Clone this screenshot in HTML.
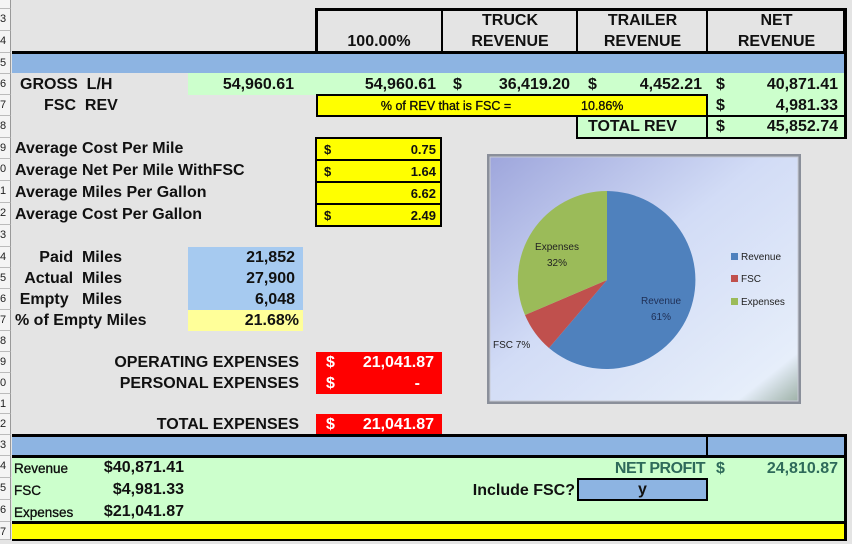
<!DOCTYPE html>
<html><head><meta charset="utf-8"><style>
*{margin:0;padding:0;box-sizing:border-box}
body{width:852px;height:544px;background:#e4e4e4;position:relative;overflow:hidden;font-family:"Liberation Sans",Arial,sans-serif;font-weight:bold;color:#111}
.a{position:absolute}
.t{position:absolute;white-space:nowrap;font-size:16px;line-height:21px}
.r{text-align:right}
.c{text-align:center}
.rh{position:absolute;left:0;width:11px;background:#f4f4f4;border-bottom:1px solid #bbb;border-right:1px solid #999;font-size:11px;font-weight:normal;color:#222;overflow:hidden;line-height:20px;direction:rtl;text-align:left;padding-left:0}
</style></head><body>
<div class="rh" style="top:0;height:9px"></div>
<div class="rh" style="top:9px;height:22px">3</div>
<div class="rh" style="top:31px;height:22px">4</div>
<div class="rh" style="top:53px;height:21px">5</div>
<div class="rh" style="top:74px;height:21px">6</div>
<div class="rh" style="top:95px;height:21px">7</div>
<div class="rh" style="top:116px;height:22px">8</div>
<div class="rh" style="top:138px;height:21px">9</div>
<div class="rh" style="top:159px;height:22px">0</div>
<div class="rh" style="top:181px;height:22px">1</div>
<div class="rh" style="top:203px;height:22px">2</div>
<div class="rh" style="top:225px;height:22px">3</div>
<div class="rh" style="top:247px;height:21px">4</div>
<div class="rh" style="top:268px;height:21px">5</div>
<div class="rh" style="top:289px;height:21px">6</div>
<div class="rh" style="top:310px;height:21px">7</div>
<div class="rh" style="top:331px;height:21px">8</div>
<div class="rh" style="top:352px;height:21px">9</div>
<div class="rh" style="top:373px;height:21px">0</div>
<div class="rh" style="top:394px;height:20px">1</div>
<div class="rh" style="top:414px;height:21px">2</div>
<div class="rh" style="top:435px;height:21px">3</div>
<div class="rh" style="top:456px;height:22px">4</div>
<div class="rh" style="top:478px;height:22px">5</div>
<div class="rh" style="top:500px;height:22px">6</div>
<div class="rh" style="top:522px;height:18px">7</div>

<div class="a" style="left:315px;top:8px;width:531px;height:46px;border:3px solid #000;border-bottom:none"></div>
<div class="a" style="left:441px;top:8px;width:2px;height:46px;background:#000"></div>
<div class="a" style="left:576px;top:8px;width:2px;height:46px;background:#000"></div>
<div class="a" style="left:706px;top:8px;width:2px;height:46px;background:#000"></div>
<div class="a" style="left:12px;top:51px;width:834px;height:3px;background:#000"></div>
<div class="t c" style="left:316px;top:31px;width:126px">100.00%</div>
<div class="t c" style="left:443px;top:10px;width:134px">TRUCK<br>REVENUE</div>
<div class="t c" style="left:578px;top:10px;width:129px">TRAILER<br>REVENUE</div>
<div class="t c" style="left:708px;top:10px;width:137px">NET<br>REVENUE</div>
<div class="a" style="left:12px;top:54px;width:834px;height:19px;background:#8db4e2"></div>
<div class="a" style="left:188px;top:73px;width:658px;height:22px;background:#ccffcc"></div>
<div class="a" style="left:708px;top:95px;width:138px;height:44px;background:#ccffcc"></div>
<div class="a" style="left:577px;top:116px;width:131px;height:23px;background:#ccffcc"></div>
<div class="t" style="left:20px;top:74px">GROSS&nbsp; L/H</div>
<div class="t r" style="left:188px;top:74px;width:106px">54,960.61</div>
<div class="t r" style="left:316px;top:74px;width:120px">54,960.61</div>
<div class="t" style="left:453px;top:74px">$</div>
<div class="t r" style="left:460px;top:74px;width:110px">36,419.20</div>
<div class="t" style="left:588px;top:74px">$</div>
<div class="t r" style="left:600px;top:74px;width:102px">4,452.21</div>
<div class="t" style="left:716px;top:74px">$</div>
<div class="t r" style="left:730px;top:74px;width:108px">40,871.41</div>
<div class="t" style="left:44px;top:95px">FSC&nbsp; REV</div>
<div class="a" style="left:316px;top:94px;width:392px;height:23px;background:#ffff00;border:2px solid #000;border-right:none"></div>
<div class="a" style="left:706px;top:94px;width:2px;height:45px;background:#000"></div>
<div class="t c" style="left:316px;top:96px;width:260px;font-size:12.5px;font-weight:normal;-webkit-text-stroke:.3px #000">% of REV that is FSC =</div>
<div class="t" style="left:581px;top:96px;font-size:12.5px;font-weight:normal;-webkit-text-stroke:.3px #000">10.86%</div>
<div class="t" style="left:716px;top:95px">$</div>
<div class="t r" style="left:730px;top:95px;width:108px">4,981.33</div>
<div class="a" style="left:576px;top:115px;width:270px;height:24px;border:2px solid #000;border-top:none"></div>
<div class="a" style="left:706px;top:115px;width:140px;height:2px;background:#000"></div>
<div class="a" style="left:844px;top:8px;width:3px;height:131px;background:#000"></div>
<div class="t" style="left:588px;top:116px">TOTAL REV</div>
<div class="t" style="left:716px;top:116px">$</div>
<div class="t r" style="left:730px;top:116px;width:108px">45,852.74</div>
<div class="t" style="left:15px;top:138px">Average Cost Per Mile</div>
<div class="t" style="left:15px;top:160px">Average Net Per Mile WithFSC</div>
<div class="t" style="left:15px;top:182px">Average Miles Per Gallon</div>
<div class="t" style="left:15px;top:204px">Average Cost Per Gallon</div>
<div class="a" style="left:315px;top:137px;width:127px;height:90px;background:#ffff00;border:2px solid #000"></div>
<div class="a" style="left:315px;top:159px;width:127px;height:2px;background:#000"></div>
<div class="a" style="left:315px;top:181px;width:127px;height:2px;background:#000"></div>
<div class="a" style="left:315px;top:203px;width:127px;height:2px;background:#000"></div>
<div class="t" style="left:324px;top:139px;font-size:13px">$</div>
<div class="t r" style="left:330px;top:139px;width:106px;font-size:13px">0.75</div>
<div class="t" style="left:324px;top:161px;font-size:13px">$</div>
<div class="t r" style="left:330px;top:161px;width:106px;font-size:13px">1.64</div>
<div class="t r" style="left:330px;top:183px;width:106px;font-size:13px">6.62</div>
<div class="t" style="left:324px;top:205px;font-size:13px">$</div>
<div class="t r" style="left:330px;top:205px;width:106px;font-size:13px">2.49</div>
<div class="a" style="left:188px;top:247px;width:115px;height:63px;background:#a6caf0"></div>
<div class="a" style="left:188px;top:310px;width:115px;height:21px;background:#ffff99"></div>
<div class="t r" style="left:15px;top:247px;width:107px">Paid&nbsp; Miles</div>
<div class="t r" style="left:15px;top:268px;width:107px">Actual&nbsp; Miles</div>
<div class="t r" style="left:15px;top:289px;width:107px">Empty&nbsp;&nbsp; Miles</div>
<div class="t" style="left:15px;top:310px">% of Empty Miles</div>
<div class="t r" style="left:188px;top:247px;width:107px">21,852</div>
<div class="t r" style="left:188px;top:268px;width:107px">27,900</div>
<div class="t r" style="left:188px;top:289px;width:107px">6,048</div>
<div class="t r" style="left:188px;top:310px;width:111px">21.68%</div>
<div class="t r" style="left:60px;top:352px;width:239px">OPERATING EXPENSES</div>
<div class="t r" style="left:60px;top:373px;width:239px">PERSONAL EXPENSES</div>
<div class="t r" style="left:60px;top:414px;width:239px">TOTAL EXPENSES</div>
<div class="a" style="left:316px;top:352px;width:126px;height:42px;background:#ff0000"></div>
<div class="a" style="left:316px;top:414px;width:126px;height:21px;background:#ff0000"></div>
<div class="t" style="left:326px;top:352px;color:#fff">$</div>
<div class="t r" style="left:340px;top:352px;width:94px;color:#fff">21,041.87</div>
<div class="t" style="left:326px;top:373px;color:#fff">$</div>
<div class="t r" style="left:340px;top:373px;width:80px;color:#fff">-</div>
<div class="t" style="left:326px;top:414px;color:#fff">$</div>
<div class="t r" style="left:340px;top:414px;width:94px;color:#fff">21,041.87</div>
<svg class="a" style="left:486px;top:153px" width="316" height="252" viewBox="486 153 316 252">
<defs>
<linearGradient id="g" x1="0" y1="0" x2="1" y2="1">
<stop offset="0" stop-color="#9ea6dc"/><stop offset="0.45" stop-color="#d2dcf6"/><stop offset="0.9" stop-color="#e6eefa"/><stop offset="1" stop-color="#9fb2a8"/>
</linearGradient>
</defs>
<rect x="487" y="154" width="314" height="250" fill="#8a8f9a"/>
<rect x="490" y="157" width="308" height="244" fill="url(#g)" stroke="#c8cbd4" stroke-width="1"/>
<path d="M607,280 L607,191 A89,89 0 1,1 549,348 Z" fill="#4f81bd"/>
<path d="M607,280 L549,348 A89,89 0 0,1 525,315 Z" fill="#c0504d"/>
<path d="M607,280 L525,315 A89,89 0 0,1 607,191 Z" fill="#9bbb59"/>
<g font-family="Liberation Sans,Arial,sans-serif" font-size="10" font-weight="normal" fill="#222">
<text x="557" y="250" text-anchor="middle">Expenses</text>
<text x="557" y="266" text-anchor="middle">32%</text>
<text x="661" y="304" text-anchor="middle" fill="#1f2f55">Revenue</text>
<text x="661" y="320" text-anchor="middle" fill="#1f2f55">61%</text>
<text x="493" y="348">FSC 7%</text>
<rect x="731" y="253" width="7" height="7" fill="#4f81bd"/><text x="741" y="260">Revenue</text>
<rect x="731" y="275" width="7" height="7" fill="#c0504d"/><text x="741" y="282">FSC</text>
<rect x="731" y="298" width="7" height="7" fill="#9bbb59"/><text x="741" y="305">Expenses</text>
</g>
</svg>
<div class="a" style="left:12px;top:434px;width:834px;height:3px;background:#000"></div>
<div class="a" style="left:12px;top:437px;width:834px;height:18px;background:#8db4e2"></div>
<div class="a" style="left:12px;top:455px;width:834px;height:3px;background:#000"></div>
<div class="a" style="left:706px;top:434px;width:2px;height:22px;background:#000"></div>
<div class="a" style="left:12px;top:458px;width:834px;height:63px;background:#ccffcc"></div>
<div class="a" style="left:12px;top:521px;width:834px;height:3px;background:#000"></div>
<div class="a" style="left:12px;top:524px;width:834px;height:15px;background:#ffff00"></div>
<div class="a" style="left:12px;top:539px;width:834px;height:2px;background:#000"></div>
<div class="a" style="left:844px;top:434px;width:3px;height:107px;background:#000"></div>
<div class="t" style="left:14px;top:458px;font-size:13.5px;font-weight:normal;-webkit-text-stroke:.3px #000">Revenue</div>
<div class="t" style="left:14px;top:480px;font-size:13.5px;font-weight:normal;-webkit-text-stroke:.3px #000">FSC</div>
<div class="t" style="left:14px;top:502px;font-size:13.5px;font-weight:normal;-webkit-text-stroke:.3px #000">Expenses</div>
<div class="t r" style="left:84px;top:457px;width:100px">$40,871.41</div>
<div class="t r" style="left:84px;top:479px;width:100px">$4,981.33</div>
<div class="t r" style="left:84px;top:501px;width:100px">$21,041.87</div>
<div class="t r" style="left:560px;top:458px;width:145px;color:#2e6a5a;letter-spacing:-0.5px">NET PROFIT</div>
<div class="t" style="left:716px;top:458px;color:#2e6a5a">$</div>
<div class="t r" style="left:730px;top:458px;width:108px;color:#2e6a5a">24,810.87</div>
<div class="t r" style="left:430px;top:480px;width:145px">Include FSC?</div>
<div class="a" style="left:577px;top:478px;width:131px;height:23px;background:#8db4e2;border:2px solid #000"></div>
<div class="t c" style="left:577px;top:479px;width:131px">y</div>
</body></html>
